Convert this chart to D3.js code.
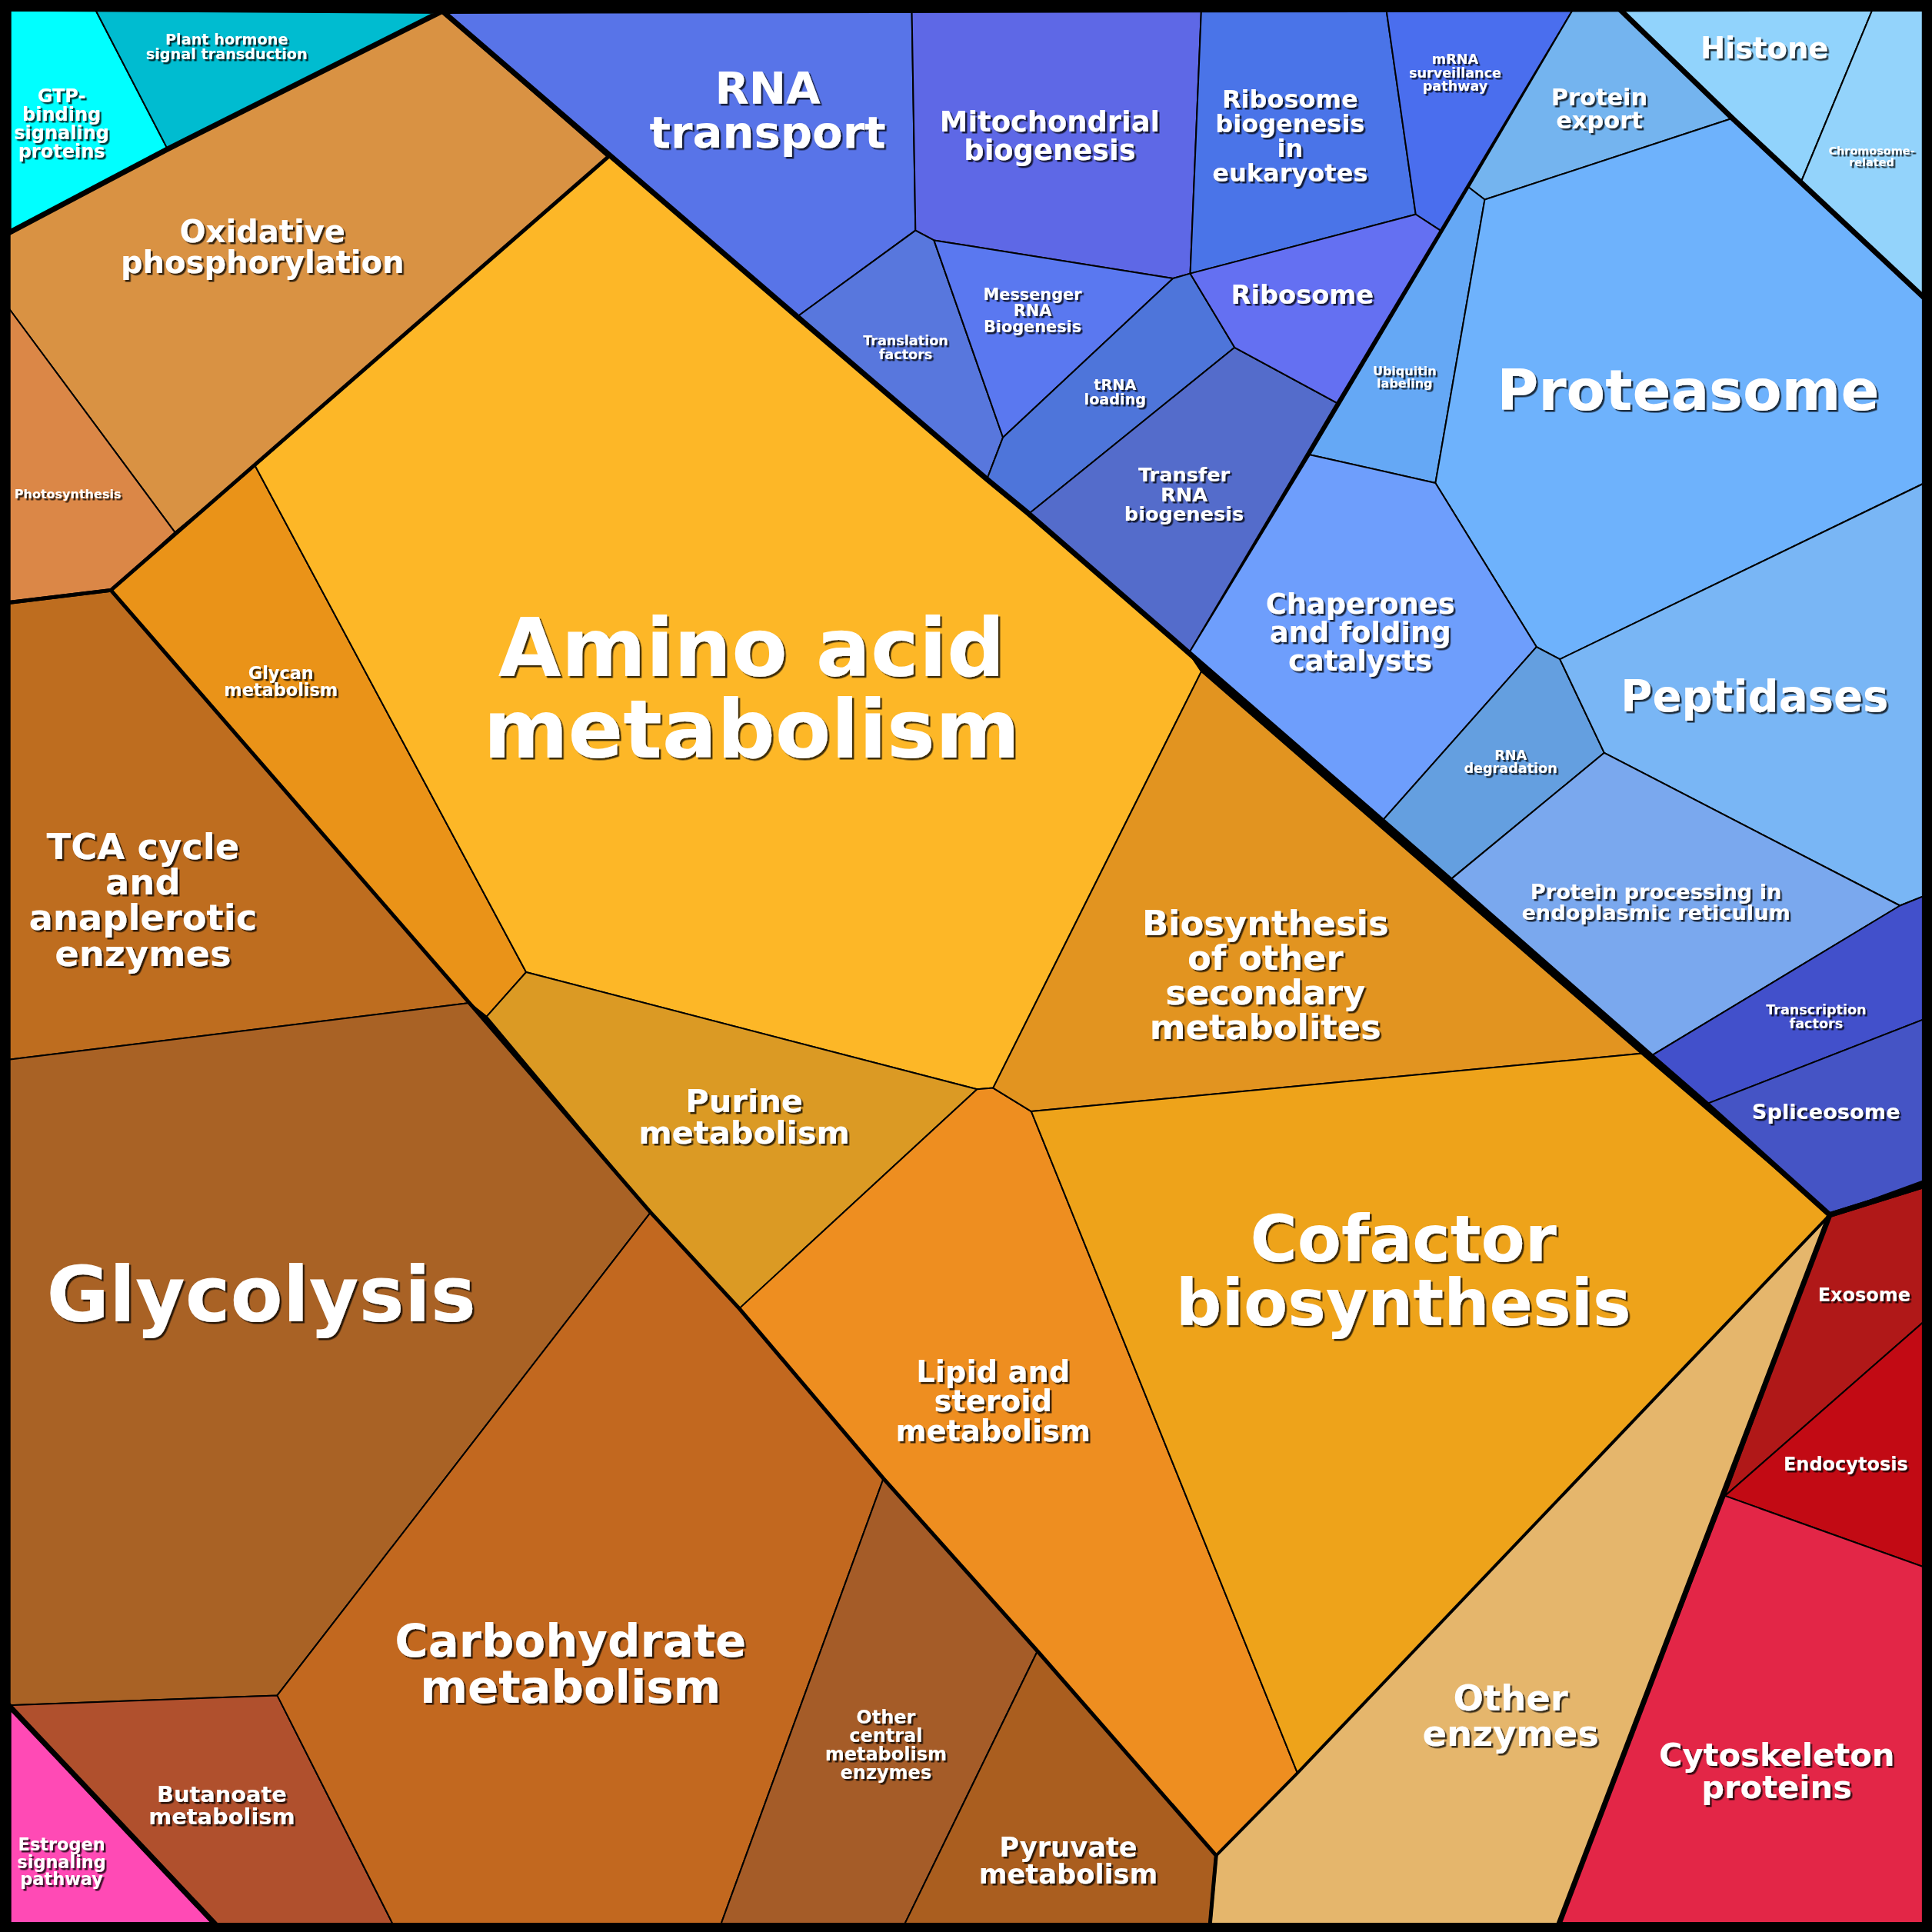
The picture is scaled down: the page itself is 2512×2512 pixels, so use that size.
<!DOCTYPE html>
<html><head><meta charset="utf-8">
<script src="https://cdn.jsdelivr.net/npm/d3@7"></script>
<style>body{margin:0;background:#fff}</style>
</head><body>
<script>
// Cell names (label lines separated by |)
var cellNames = [
  "GTP-|binding|signaling|proteins", "Plant hormone|signal transduction", "Oxidative|phosphorylation", "Photosynthesis",
  "Glycan|metabolism", "Amino acid|metabolism", "TCA cycle|and|anaplerotic|enzymes", "Glycolysis",
  "Butanoate|metabolism", "Estrogen|signaling|pathway", "Purine|metabolism", "Carbohydrate|metabolism",
  "Other|central|metabolism|enzymes", "Lipid and|steroid|metabolism", "Pyruvate|metabolism",
  "Biosynthesis|of other|secondary|metabolites", "Cofactor|biosynthesis", "Other|enzymes",
  "Exosome", "Endocytosis", "Cytoskeleton|proteins",
  "RNA|transport", "Mitochondrial|biogenesis", "Ribosome|biogenesis|in|eukaryotes", "mRNA|surveillance|pathway",
  "Translation|factors", "Messenger|RNA|Biogenesis", "tRNA|loading", "Transfer|RNA|biogenesis", "Ribosome",
  "Protein|export", "Histone", "Chromosome-|related", "Ubiquitin|labeling", "Proteasome",
  "Chaperones|and folding|catalysts", "RNA|degradation", "Peptidases", "Protein processing in|endoplasmic reticulum",
  "Transcription|factors", "Spliceosome"
];

var cellColors = [
  "#00FFFF", "#00BCD0", "#D99243", "#DB8747",
  "#EA9318", "#FDB727", "#BE6D1F", "#A96225",
  "#B0502D", "#FF4AB5", "#DB9A24", "#C2681F",
  "#A55C28", "#EE8E20", "#AA5E1F",
  "#E29420", "#EEA31A", "#E5B66C",
  "#B01818", "#C20A14", "#E32647",
  "#5874E8", "#5E68E6", "#4A74E8", "#4A6EEE",
  "#5877DD", "#5A78F0", "#4E75DA", "#546CCB", "#6470F2",
  "#74B4EF", "#91D3FC", "#93D3FB", "#65A8F5", "#6EB2FC",
  "#6E9EFC", "#649FE0", "#79B6F5", "#7AA8EE",
  "#4250CB", "#4554C5"
];

// Cell outlines (units of a 1568 grid)
var cellVertices = [
  [[7,7],[77,7],[136,121],[7,189]],
  [[77,7],[359,9],[136,121]],
  [[7,189],[136,121],[359,9],[494,127],[207,378],[142,432],[7,250]],
  [[7,250],[142,432],[90,479],[7,489]],
  [[207,378],[427,789],[395,825],[381,814],[90,479]],
  [[207,378],[494,127],[647,257],[801,389],[835,417],[965,530],[975,545],[806,883],[793,884],[427,789]],
  [[7,489],[90,479],[381,814],[7,860]],
  [[7,860],[381,814],[528,984],[225,1376],[7,1384]],
  [[7,1384],[225,1376],[319,1562],[175,1562]],
  [[7,1384],[175,1562],[7,1562]],
  [[427,789],[793,884],[600,1062],[528,984],[395,825]],
  [[528,984],[600,1062],[717,1200],[585,1562],[319,1562],[225,1376]],
  [[717,1200],[842,1340],[734,1562],[585,1562]],
  [[793,884],[806,883],[837,902],[1053,1439],[987,1506],[842,1340],[717,1200],[600,1062]],
  [[842,1340],[987,1506],[982,1562],[734,1562]],
  [[975,545],[1332,855],[837,902],[806,883]],
  [[837,902],[1332,855],[1485,986],[1053,1439]],
  [[1485,986],[1265,1562],[982,1562],[987,1506],[1053,1439]],
  [[1485,986],[1562,962],[1562,1072],[1400,1214]],
  [[1400,1214],[1562,1072],[1562,1272]],
  [[1400,1214],[1562,1272],[1562,1562],[1265,1562]],
  [[359,9],[740,7],[743,187],[647,257]],
  [[740,7],[975,7],[966,222],[952,226],[758,195],[743,187]],
  [[975,7],[1125,7],[1149,174],[966,222]],
  [[1125,7],[1277,7],[1169,187],[1149,174]],
  [[647,257],[743,187],[758,195],[814,355],[801,389]],
  [[758,195],[952,226],[814,355]],
  [[814,355],[952,226],[966,222],[1002,282],[835,417],[801,389]],
  [[835,417],[1002,282],[1085,327],[965,530]],
  [[966,222],[1149,174],[1169,187],[1085,327],[1002,282]],
  [[1192,152],[1277,7],[1314,7],[1406,96],[1205,162]],
  [[1314,7],[1520,7],[1462,147],[1406,96]],
  [[1520,7],[1562,7],[1562,242],[1462,147]],
  [[1063,369],[1192,152],[1205,162],[1165,392]],
  [[1205,162],[1406,96],[1562,242],[1562,392],[1266,535],[1247,525],[1165,392]],
  [[965,530],[1063,369],[1165,392],[1247,525],[1122,666]],
  [[1122,666],[1247,525],[1266,535],[1302,611],[1177,714]],
  [[1266,535],[1562,392],[1562,727],[1542,735],[1302,611]],
  [[1177,714],[1302,611],[1542,735],[1340,857]],
  [[1340,857],[1542,735],[1562,727],[1562,827],[1385,896]],
  [[1385,896],[1562,827],[1562,958],[1485,986]]
];

// Label centres and font sizes (same grid)
var labelX = [50,184,213,55,228,610,116,212,180,50,604,463,719,806,867,1027,1139,1226,1513,1498,1442,
  623,852,1047,1181,735,838,905,961,1057,1298,1432,1519,1140,1370,1104,1226,1424,1344,1474,1482];
var labelY = [100,38,200,401,553,558,730,1050,1465,1511,906,1350,1416,1137,1510,791,1031,1392,1051,1188,1437,
  89,110,110,59,282,252,318,401,239,88,39,127,306,316,513,618,565,732,825,902];
var labelSize = [15,12,25,10,14,66,29,62,18,14,26,37,15,24,22,28,52,29,15,15,26,
  36,23,20,11,11,13,12,16,21,19,24,9,10,46,23,11,35,17,11,17];

// Group outlines: [vertices, stroke width]
var groupOutlines = [
  [[[7,189],[136,121],[359,9],[494,127],[90,479],[7,489]], 5],
  [[[7,489],[90,479],[381,814],[528,984],[600,1062],[717,1200],[842,1340],[987,1506],[982,1562],[175,1562],[7,1384]], 5],
  [[[1485,986],[1265,1562],[982,1562],[987,1506],[1053,1439]], 4],
  [[[7,7],[359,9],[136,121],[7,189]], 7],
  [[[7,1384],[175,1562],[7,1562]], 7],
  [[[1314,7],[1562,7],[1562,242],[1406,96]], 7],
  [[[1485,986],[1562,962],[1562,1562],[1265,1562]], 7],
  [[[359,9],[647,257],[801,389],[835,417],[965,530],[1177,714],[1340,857],[1385,896],[1485,986],[1562,962],[1562,7]], 7]
];

var S = 2512;
var x = d3.scaleLinear().domain([0, 1568]).range([0, S]);
var y = d3.scaleLinear().domain([0, 1568]).range([0, S]);
var k = S / 1568;

var svg = d3.select("body").append("svg").attr("width", S).attr("height", S);
svg.append("rect").attr("width", S).attr("height", S).attr("fill", "#000");

var filter = svg.append("defs").append("filter").attr("id", "shadow")
  .attr("x", "-10%").attr("y", "-10%").attr("width", "120%").attr("height", "120%");
filter.append("feDropShadow").attr("dx", 2.5).attr("dy", 2.5).attr("stdDeviation", 0.6)
  .attr("flood-color", "#000").attr("flood-opacity", 0.75);

var line = d3.line().x(function(d) { return x(d[0]); }).y(function(d) { return y(d[1]); }).curve(d3.curveLinearClosed);

svg.selectAll(".cell")
  .data(cellVertices)
  .enter()
  .append("path")
  .attr("class", "cell")
  .attr("d", line)
  .attr("fill", function(d, i) { return cellColors[i]; })
  .attr("stroke", "#000")
  .attr("stroke-width", 2)
  .attr("stroke-linejoin", "round");

svg.selectAll(".group")
  .data(groupOutlines)
  .enter()
  .append("path")
  .attr("class", "group")
  .attr("d", function(d) { return line(d[0]); })
  .attr("fill", "none")
  .attr("stroke", "#000")
  .attr("stroke-width", function(d) { return d[1]; })
  .attr("stroke-linejoin", "round");

// frame
svg.append("rect").attr("x", 5).attr("y", 5).attr("width", S - 10).attr("height", S - 10)
  .attr("fill", "none").attr("stroke", "#000").attr("stroke-width", 14);

// labels
var labels = svg.append("g").attr("filter", "url(#shadow)");
cellNames.forEach(function(n, i) {
  var lines = n.split("|");
  var fs = labelSize[i] * k;
  var t = labels.append("text")
    .attr("x", x(labelX[i]))
    .attr("y", y(labelY[i]))
    .attr("text-anchor", "middle")
    .attr("font-family", "DejaVu Sans")
    .attr("font-weight", "bold")
    .attr("font-size", fs)
    .attr("fill", "#fff");
  lines.forEach(function(l, j) {
    t.append("tspan")
      .attr("x", x(labelX[i]))
      .attr("y", y(labelY[i]) + (j - (lines.length - 1) / 2) * fs + fs * 0.36)
      .text(l);
  });
});
</script>
</body></html>
